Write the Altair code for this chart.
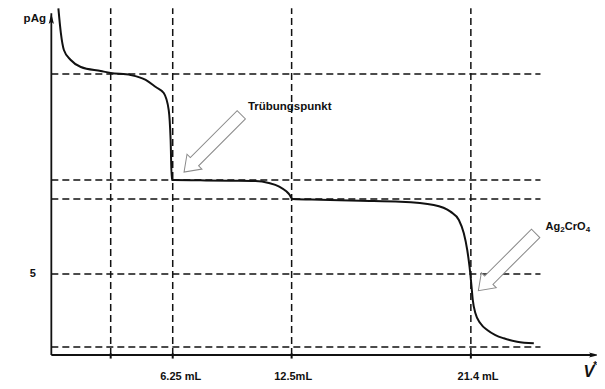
import altair as alt
import pandas as pd

# ---- data (x in mL, y in pAg; schematic curve) ----
curve_v = [0.24, 0.37, 0.53, 0.89, 1.42, 2.47, 2.99, 4.04, 4.83, 5.36, 5.78, 6.04, 6.14, 6.20,
           6.30, 7.72, 9.30, 10.60, 11.30, 11.85, 12.20, 12.40, 12.47, 12.55, 14.02, 16.12, 18.22,
           19.97, 20.85, 21.29, 21.55, 21.73, 21.85, 21.94, 22.02, 22.16, 22.42, 22.78, 23.21,
           23.65, 24.35, 25.23]
curve_p = [21.4, 19.88, 18.83, 18.21, 17.78, 17.53, 17.41, 17.28, 16.98, 16.54, 16.17, 15.12, 13.27, 10.80,
           10.80, 10.78, 10.76, 10.74, 10.62, 10.40, 10.12, 9.88, 9.72, 9.63, 9.58, 9.52, 9.46,
           9.26, 8.85, 8.33, 7.51, 6.48, 5.45, 4.43, 3.40, 2.57, 1.96, 1.54, 1.23,
           1.03, 0.82, 0.72]

hline_levels = [17.35, 10.80, 9.63, 5.0, 0.49]
vline_positions = [2.99, 6.25, 12.5, 21.92]
xlabel_text = ["6.25 mL", "12.5mL", "21.4 mL"]
xlabel_pos = [6.67, 12.58, 22.30]
y_tick_values = [5]

X_MIN, X_MAX = -0.2, 28.55
Y_MIN, Y_MAX = -1.605, 21.42
AX = -0.13         # where the y axis crosses (left edge of the diagram)
H_END = 25.58      # right end of the horizontal guide lines
V_TOP = 21.4       # top of the vertical guide lines
Y_AXIS_TOP = 21.1
X_AXIS_END = 28.3

xs = alt.Scale(domain=[X_MIN, X_MAX], nice=False, zero=False)
ys = alt.Scale(domain=[Y_MIN, Y_MAX], nice=False, zero=False)

def X(field="x"):
    return alt.X(f"{field}:Q", scale=xs, axis=None)

def Y(field="y"):
    return alt.Y(f"{field}:Q", scale=ys, axis=None)

INK = "#111111"
FONT = "Liberation Sans"

curve_df = pd.DataFrame({"x": curve_v, "y": curve_p})
hdf = pd.DataFrame({"y": hline_levels, "x": [AX] * len(hline_levels), "x2": [H_END] * len(hline_levels)})
vdf = pd.DataFrame({"x": vline_positions, "y": [0] * len(vline_positions), "y2": [V_TOP] * len(vline_positions)})
tick_df = pd.DataFrame({"x": vline_positions, "y": [0.1] * 4, "y2": [-0.22] * 4})
lab_df = pd.DataFrame({"x": xlabel_pos, "y": [-1.36] * 3, "t": xlabel_text})

hdash = alt.Chart(hdf).mark_rule(strokeDash=[7, 4], strokeWidth=1.5, color=INK).encode(
    x=X("x"), x2="x2", y=Y("y"))
vdash = alt.Chart(vdf).mark_rule(strokeDash=[7, 4], strokeWidth=1.5, color=INK).encode(
    x=X("x"), y=Y("y"), y2="y2")

curve = alt.Chart(curve_df).mark_line(interpolate="monotone", strokeWidth=2, color=INK).encode(
    x=X("x"), y=Y("y"))

yaxis_df = pd.DataFrame({"x": [AX, AX], "y": [0, Y_AXIS_TOP]})
yaxis = alt.Chart(yaxis_df).mark_line(strokeWidth=1.8, color=INK).encode(x=X("x"), y=Y("y"))
xaxis_df = pd.DataFrame({"x": [AX, X_AXIS_END], "y": [0, 0]})
xaxis = alt.Chart(xaxis_df).mark_line(strokeWidth=1.8, color=INK).encode(x=X("x"), y=Y("y"))

ticks = alt.Chart(tick_df).mark_rule(strokeWidth=2, color=INK).encode(
    x=X("x"), y=Y("y"), y2="y2")

head_path = "M 0 -1 L 0.5 1 L 0 0.55 L -0.5 1 Z"
heads_df = pd.DataFrame({"x": [AX, X_AXIS_END + 0.1], "y": [Y_AXIS_TOP - 0.35, 0], "a": [0, 90]})
heads = alt.Chart(heads_df).mark_point(shape=head_path, filled=True, size=110, color=INK, opacity=1).encode(
    x=X("x"), y=Y("y"), angle=alt.Angle("a:Q", scale=None))

arrow_path = ("M -1 -0.145 L 0.636 -0.145 L 0.636 -0.26 L 1 0 L 0.636 0.26 "
              "L 0.636 0.145 L -1 0.145 Z")
arrows_df = pd.DataFrame({"x": [8.35, 23.82], "y": [13.06, 5.74]})
arrows = alt.Chart(arrows_df).mark_point(
    shape=arrow_path, filled=True, fill="white", stroke="#8a8a8a", strokeWidth=1,
    size=6561, angle=135, opacity=1).encode(x=X("x"), y=Y("y"))

xlabels = alt.Chart(lab_df).mark_text(font=FONT, fontWeight="bold", fontSize=11, color=INK,
                                      baseline="middle").encode(x=X("x"), y=Y("y"), text="t:N")

ytick_df = pd.DataFrame({"x": [-1.1] * len(y_tick_values), "y": y_tick_values, "t": [str(v) for v in y_tick_values]})
ylabels = alt.Chart(ytick_df).mark_text(font=FONT, fontWeight="bold", fontSize=11, color=INK,
                                        baseline="middle").encode(x=X("x"), y=Y("y"), text="t:N")

ann_df = pd.DataFrame({"x": [-1.0, 12.4], "y": [20.74, 15.3], "t": ["pAg", "Trübungspunkt"]})
ann = alt.Chart(ann_df).mark_text(font=FONT, fontWeight="bold", fontSize=11.5, color=INK,
                                  baseline="middle").encode(x=X("x"), y=Y("y"), text="t:N")

# Ag2CrO4 with real subscripts, built from pieces anchored at one point
chem_anchor = pd.DataFrame({"x": [25.84], "y": [7.9]})
chem_parts = [("Ag", 0, 0, 11), ("2", 14.8, 3, 8), ("CrO", 19.3, 0, 11), ("4", 40.2, 3, 8)]
chem_layers = [
    alt.Chart(chem_anchor).mark_text(text=t, dx=dx, dy=dy, fontSize=fs, font=FONT, fontWeight="bold",
                                     color=INK, align="left", baseline="middle").encode(x=X("x"), y=Y("y"))
    for t, dx, dy, fs in chem_parts
]

v_df = pd.DataFrame({"x": [28.12], "y": [-1.05], "t": ["V"]})
vlab = alt.Chart(v_df).mark_text(font=FONT, fontWeight="bold", fontStyle="italic", fontSize=16,
                                 color=INK, baseline="middle").encode(x=X("x"), y=Y("y"), text="t:N")
star_df = pd.DataFrame({"x": [28.45], "y": [-0.7], "t": ["*"]})
star = alt.Chart(star_df).mark_text(font=FONT, fontWeight="bold", fontSize=10,
                                    color=INK, baseline="middle").encode(x=X("x"), y=Y("y"), text="t:N")

# axis lines and heads are layered last so nothing covers them
chart = alt.layer(hdash, vdash, curve, ticks, arrows, xlabels, ylabels, ann,
                  *chem_layers, vlab, star, xaxis, yaxis, heads).properties(
    width=547, height=373, autosize="none",
    padding={"left": 42, "top": 0, "right": 0, "bottom": 0},
    background="white",
).configure_view(stroke=None)

chart.save("out.html", embed_options={"renderer": "svg", "actions": False})
